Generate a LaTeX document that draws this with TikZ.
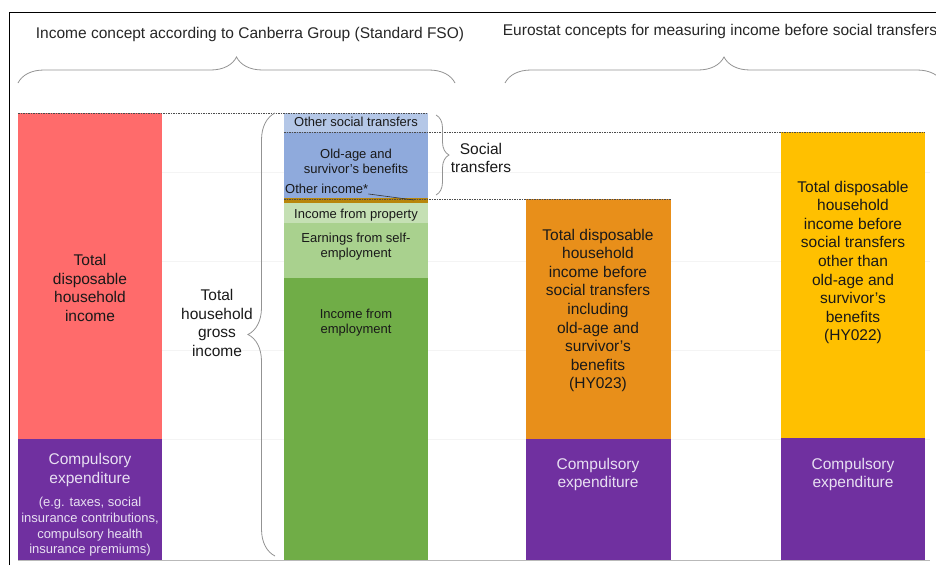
\documentclass[tikz,border=0pt]{standalone}
\usepackage{fontspec}
\setmainfont{Liberation Sans}
\usetikzlibrary{positioning,decorations.pathreplacing}

\definecolor{tdhired}{HTML}{FF6B6B}
\definecolor{compurple}{HTML}{7030A0}
\definecolor{ostblue}{HTML}{B4C7E7}
\definecolor{oldblue}{HTML}{8FAADC}
\definecolor{oibrown}{HTML}{B8860B}
\definecolor{propgreen}{HTML}{C5E0B4}
\definecolor{selfgreen}{HTML}{A9D18E}
\definecolor{empgreen}{HTML}{70AD47}
\definecolor{hyorange}{HTML}{E88F1A}
\definecolor{hyyellow}{HTML}{FFC000}
\definecolor{lavender}{HTML}{E8E0F2}

\tikzset{
  seg/.style={anchor=north west, minimum width=144pt, inner sep=0pt, outer sep=0pt},
  big/.style={font=\fontsize{15.5}{18.6}\selectfont, align=center, inner sep=0pt, text=black!90},
  small/.style={font=\fontsize{13}{15}\selectfont, align=center, inner sep=0pt, text=black!90},
  guide/.style={gray!60!black, line width=0.6pt, dash pattern=on 1.5pt off 1pt},
  curly/.style={decorate, decoration={brace, amplitude=#1}, gray!85, line width=0.8pt},
}

\begin{document}
\begin{tikzpicture}[x=1pt, y=-1pt]
\useasboundingbox (0,0) rectangle (936,565);

% frame and grid
\draw[line width=1pt] (9,565) |- (936,12);
\foreach \gy in {172,261,350,439}
  \draw[gray!9] (18,\gy) -- (930,\gy);
\draw[gray!55, line width=0.8pt] (18,560) -- (930,560);

% bars
\node[seg, fill=tdhired, minimum height=326pt] (tdhi) at (18,113) {};
\node[seg, fill=compurple, minimum height=121pt] (cex-1) at (18,439) {};

\foreach \name/\col/\top/\h in {ost/ostblue/113/19, old/oldblue/132/66, oinc/oibrown/198/5,
    prop/propgreen/203/20, self/selfgreen/223/55, emp/empgreen/278/282}
  \node[seg, fill=\col, minimum height=\h pt] (\name) at (284,\top) {};

\node[seg, fill=hyorange, minimum width=145pt, minimum height=240pt] (hy023) at (526,199) {};
\node[seg, fill=compurple, minimum width=145pt, minimum height=121pt] (cex-2) at (526,439) {};
\node[seg, fill=hyyellow, minimum height=306pt] (hy022) at (781,132) {};
\node[seg, fill=compurple, minimum height=122pt] (cex-3) at (781,438) {};

% dashed levels
\draw[guide] (tdhi.north west) -- (ost.north east);
\draw[guide] (ost.south west) -- (hy022.north east);
\draw[guide] (oinc.south west |- hy023.north) -- (hy023.north east);

% headings and braces
\node[big, text=black!85] (canberra) at (250,34) {Income concept according to Canberra Group (Standard FSO)};
\node[big, text=black!85] (eurostat) at (720,31) {Eurostat concepts for measuring income before social transfers};
\draw[curly=26pt] (18,83) -- (455,83);
\draw[curly=26pt] (505,83) -- (943,83);
\draw[curly=27pt] (275,556) -- (275,113);
\draw[curly=13pt] (436,115) -- (436,195);

% labels
\node[big] (tdhi-txt) at (90,288) {Total\\disposable\\household\\income};
\node[big, text=lavender] (cex-1-txt) at (90,470) {Compulsory\\expenditure};
\node[small, text=lavender, font=\fontsize{13}{15.7}\selectfont] (cex-1-eg) at (90,527)
  {(e.g. taxes, social\\insurance contributions,\\compulsory health\\insurance premiums)};
\node[big] (gross-txt) at (217,323) {Total\\household\\gross\\income};

\node[small] (ost-txt) at (356,122) {Other social transfers};
\node[small] (old-txt) at (356,161) {Old-age and\\survivor’s benefits};
\node[small, anchor=west] (oinc-txt) at (285,189) {Other income*};
\node[small] (prop-txt) at (356,215) {Income from property};
\node[small] (self-txt) at (356,247) {Earnings from self-\\employment};
\node[small] (emp-txt) at (356,323) {Income from\\employment};
\node[big] (social-txt) at (481,158) {Social\\transfers};

\coordinate (oinc-tip) at (414,200);
\draw[black!80, line width=0.6pt] (oinc-txt.south east) -- (oinc-tip);

\node[big] (hy023-txt) at (598,310.5) {Total disposable\\household\\income before\\social transfers\\including\\old-age and\\survivor’s\\benefits\\(HY023)};
\node[big, text=lavender] (cex-2-txt) at (598,474.5) {Compulsory\\expenditure};
\node[big] (hy022-txt) at (853,262.5) {Total disposable\\household\\income before\\social transfers\\other than\\old-age and\\survivor’s\\benefits\\(HY022)};
\node[big, text=lavender] (cex-3-txt) at (853,474.5) {Compulsory\\expenditure};
\end{tikzpicture}
\end{document}
